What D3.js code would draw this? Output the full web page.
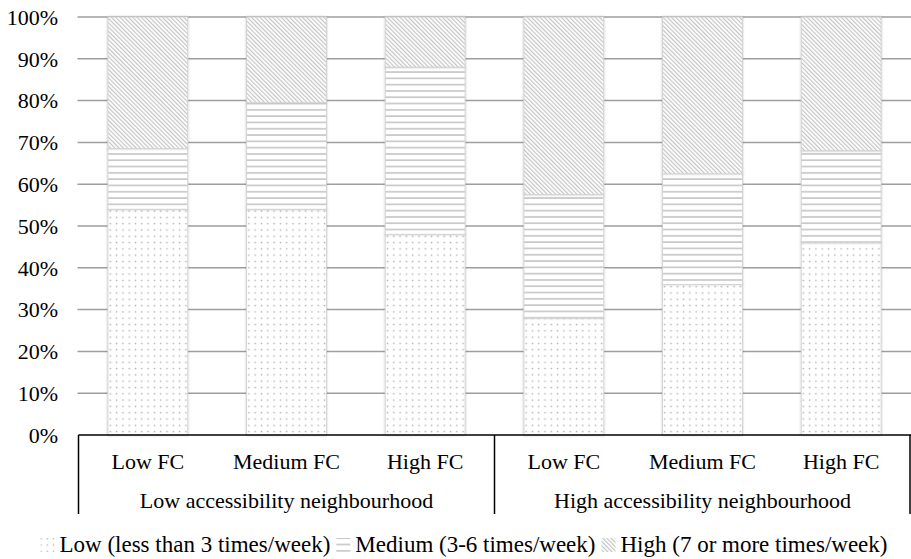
<!DOCTYPE html>
<html>
<head>
<meta charset="utf-8">
<script src="https://cdn.jsdelivr.net/npm/d3@7"></script>
<style>
  html, body { margin: 0; padding: 0; background: #fff; }
  svg { display: block; }
  text { font-family: "Liberation Serif", "Times New Roman", serif; fill: #000; }
</style>
</head>
<body>
<svg id="chart" width="911" height="559"></svg>
<script>
// ---- data ----
const groups = ["Low accessibility neighbourhood", "High accessibility neighbourhood"];
const categories = ["Low FC", "Medium FC", "High FC"];
const seriesNames = ["Low (less than 3 times/week)", "Medium (3-6 times/week)", "High (7 or more times/week)"];
const lowValues = [54, 54, 48, 28, 36, 46];
const mediumValues = [14.5, 25.5, 40, 29.5, 26.5, 22];
const highValues = [31.5, 20.5, 12, 42.5, 37.5, 32];
const yTicks = [0, 10, 20, 30, 40, 50, 60, 70, 80, 90, 100];

// ---- build table ----
const keys = ["low", "medium", "high"];
const rows = [];
groups.forEach((g, gi) => categories.forEach((c, ci) => {
  const i = gi * categories.length + ci;
  rows.push({ id: g + "|" + c, group: g, cat: c, low: lowValues[i], medium: mediumValues[i], high: highValues[i] });
}));
const stacked = d3.stack().keys(keys)(rows);

const svg = d3.select("#chart");
const margin = { left: 78.5, right: 0, top: 17, bottom: 124 };
const W = 911, H = 559;
const FS = 22, LFS = 23;
const x = d3.scaleBand().domain(rows.map(r => r.id)).range([margin.left, W - 0.5]).paddingInner(0.424).paddingOuter(0.212);
const y = d3.scaleLinear().domain([0, 100]).range([H - margin.bottom, margin.top]);

// ---- patterns ----
const defs = svg.append("defs");
const pDots = defs.append("pattern").attr("id", "pLow").attr("patternUnits", "userSpaceOnUse")
  .attr("width", 6.3).attr("height", 6.3);
pDots.append("rect").attr("width", 6.3).attr("height", 6.3).attr("fill", "#fff");
pDots.append("rect").attr("x", 2.5).attr("y", 2.5).attr("width", 1.4).attr("height", 1.4).attr("fill", "#adadad");

const pH = defs.append("pattern").attr("id", "pMedium").attr("patternUnits", "userSpaceOnUse")
  .attr("width", 8).attr("height", 6.3);
pH.append("rect").attr("width", 8).attr("height", 6.3).attr("fill", "#fff");
pH.append("rect").attr("x", 0).attr("y", 2).attr("width", 8).attr("height", 1.5).attr("fill", "#c2c2c2");

const pD = defs.append("pattern").attr("id", "pHigh").attr("patternUnits", "userSpaceOnUse")
  .attr("width", 3).attr("height", 3).attr("patternTransform", "rotate(-45)");
pD.append("rect").attr("width", 3).attr("height", 3).attr("fill", "#fff");
pD.append("rect").attr("x", 0).attr("y", 0).attr("width", 1.2).attr("height", 3).attr("fill", "#c4c4c4");

const shadow = defs.append("filter").attr("id", "shadow").attr("x", "-20%").attr("y", "-20%").attr("width", "140%").attr("height", "140%");
shadow.append("feDropShadow").attr("dx", 0).attr("dy", 0).attr("stdDeviation", 1.3)
  .attr("flood-color", "#000").attr("flood-opacity", 0.22);

const fills = { low: "url(#pLow)", medium: "url(#pMedium)", high: "url(#pHigh)" };

// ---- gridlines ----
svg.append("g").selectAll("line").data(yTicks.filter(t => t > 0)).join("line")
  .attr("x1", margin.left - 1).attr("x2", W)
  .attr("y1", d => y(d)).attr("y2", d => y(d))
  .attr("stroke", "#9e9e9e").attr("stroke-width", 1.5);

// ---- y labels ----
svg.append("g").selectAll("text").data(yTicks).join("text")
  .attr("x", 58).attr("y", d => y(d)).attr("dy", "0.35em")
  .attr("text-anchor", "end").attr("font-size", FS)
  .text(d => d + "%");

// ---- bars ----
const layer = svg.append("g");
stacked.forEach(s => {
  layer.append("g").selectAll("rect").data(s).join("rect")
    .attr("x", d => x(d.data.id)).attr("width", x.bandwidth())
    .attr("y", d => y(d[1])).attr("height", d => y(d[0]) - y(d[1]))
    .attr("fill", fills[s.key])
    .attr("stroke", "#d4d4d4").attr("stroke-width", 1)
    .attr("filter", "url(#shadow)");
});

// ---- category axis box ----
const y0 = y(0);
const axisBottom = 514;
svg.append("line").attr("x1", margin.left).attr("x2", W).attr("y1", y0).attr("y2", y0)
  .attr("stroke", "#000").attr("stroke-width", 1.5);
const nG = groups.length, nC = categories.length;
const groupEdges = d3.range(nG + 1).map(g => {
  if (g === nG) return x(rows[rows.length - 1].id) + x.step() - x.step() * x.paddingInner() / 2;
  return x(rows[g * nC].id) - x.step() * x.paddingInner() / 2;
});
svg.append("g").selectAll("line").data(groupEdges).join("line")
  .attr("x1", d => Math.min(d, W - 1)).attr("x2", d => Math.min(d, W - 1))
  .attr("y1", y0).attr("y2", axisBottom)
  .attr("stroke", "#000").attr("stroke-width", 1.5);

svg.append("g").selectAll("text").data(rows).join("text")
  .attr("x", d => x(d.id) + x.bandwidth() / 2).attr("y", 469)
  .attr("text-anchor", "middle").attr("font-size", FS)
  .text(d => d.cat);

svg.append("g").selectAll("text").data(groups).join("text")
  .attr("x", (d, i) => (groupEdges[i] + Math.min(groupEdges[i + 1], W)) / 2).attr("y", 508)
  .attr("text-anchor", "middle").attr("font-size", FS)
  .text(d => d);

// ---- legend ----
const leg = svg.append("g");
const sw = 14, gapSwText = 5, gapItems = 6;
let cx = 0;
const items = seriesNames.map((name, i) => {
  const t = leg.append("text").attr("font-size", LFS).attr("y", 552).text(name);
  const w = t.node().getComputedTextLength();
  const item = { key: keys[i], t, sx: cx, tx: cx + sw + gapSwText };
  cx += sw + gapSwText + w + gapItems;
  return item;
});
const total = cx - gapItems;
const startX = 464 - total / 2;
items.forEach(it => {
  it.t.attr("x", startX + it.tx);
  leg.append("rect").attr("x", startX + it.sx).attr("y", 538).attr("width", sw).attr("height", sw)
    .attr("fill", fills[it.key]);
});
</script>
</body>
</html>
